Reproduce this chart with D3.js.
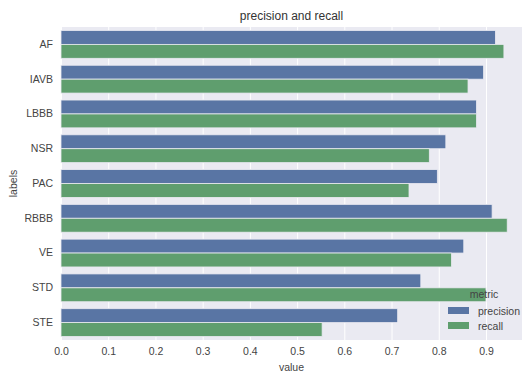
<!DOCTYPE html>
<html>
<head>
<meta charset="utf-8">
<script src="https://cdn.jsdelivr.net/npm/d3@7"></script>
<style>
  html, body { margin: 0; padding: 0; background: #fff; }
  svg { display: block; font-family: "Liberation Sans", Arial, sans-serif; }
</style>
</head>
<body>
<svg id="chart" width="522" height="373"></svg>
<script>
const categories = ["AF", "IAVB", "LBBB", "NSR", "PAC", "RBBB", "VE", "STD", "STE"];
const metrics = ["precision", "recall"];
const precision = [0.920, 0.895, 0.880, 0.815, 0.797, 0.913, 0.853, 0.762, 0.713];
const recall    = [0.938, 0.862, 0.880, 0.780, 0.737, 0.945, 0.827, 0.900, 0.553];
const xTicks = [0, 0.1, 0.2, 0.3, 0.4, 0.5, 0.6, 0.7, 0.8, 0.9];
const colors = ["#5975A4", "#5F9E6E"];

const seriesValues = { precision: precision, recall: recall };
const rows = [];
categories.forEach((c, i) => metrics.forEach(m => rows.push({ label: c, metric: m, value: seriesValues[m][i] })));

const svg = d3.select("#chart");
const L = 61, R = 522, T = 27, B = 340;

const x = d3.scaleLinear().domain([0, 0.9763]).range([L, R]);
const y = d3.scaleBand().domain(categories).range([T, B]).paddingInner(0.2).paddingOuter(0.1);
const yInner = d3.scaleBand().domain(metrics).range([0, y.bandwidth()]);
const color = d3.scaleOrdinal().domain(metrics).range(colors);

// background
svg.append("rect").attr("x", L).attr("y", T).attr("width", R - L).attr("height", B - T).attr("fill", "#EAEAF2");

// vertical grid
const gx = svg.append("g").attr("transform", `translate(0,${B})`)
  .call(d3.axisBottom(x).tickValues(xTicks).tickSize(-(B - T)).tickFormat(""));
gx.select(".domain").remove();
gx.selectAll("line").attr("stroke", "#fff").attr("stroke-width", 1);

// bars
svg.append("g").selectAll("rect").data(rows).join("rect")
  .attr("x", x(0))
  .attr("y", d => y(d.label) + yInner(d.metric))
  .attr("width", d => x(d.value) - x(0))
  .attr("height", yInner.bandwidth())
  .attr("fill", d => color(d.metric))
  .attr("stroke", "#EAEAF2")
  .attr("stroke-width", 0.8);

// x axis labels
const ax = svg.append("g").attr("transform", `translate(0,${B})`)
  .call(d3.axisBottom(x).tickValues(xTicks).tickSize(0).tickPadding(8).tickFormat(d3.format(".1f")));
ax.select(".domain").remove();
ax.selectAll("text").attr("font-size", 10.5).attr("fill", "#444").attr("font-family", "Liberation Sans, Arial, sans-serif");

// y axis labels
const ay = svg.append("g").attr("transform", `translate(${L},0)`)
  .call(d3.axisLeft(y).tickSize(0).tickPadding(8));
ay.select(".domain").remove();
ay.selectAll("text").attr("font-size", 10.5).attr("fill", "#444").attr("font-family", "Liberation Sans, Arial, sans-serif");

// title
svg.append("text").attr("x", (L + R) / 2).attr("y", 20).attr("text-anchor", "middle")
  .attr("font-size", 12).attr("fill", "#333").text("precision and recall");

// axis titles
svg.append("text").attr("x", (L + R) / 2).attr("y", 371).attr("text-anchor", "middle")
  .attr("font-size", 10.5).attr("fill", "#444").text("value");
svg.append("text").attr("transform", `translate(17,${(T + B) / 2}) rotate(-90)`).attr("text-anchor", "middle")
  .attr("font-size", 10.5).attr("fill", "#444").text("labels");

// legend
const lg = svg.append("g");
lg.append("text").attr("x", 484).attr("y", 297.5).attr("text-anchor", "middle")
  .attr("font-size", 10.5).attr("fill", "#444").text("metric");
metrics.forEach((m, i) => {
  const yy = 307 + i * 15;
  lg.append("rect").attr("x", 448).attr("y", yy).attr("width", 21).attr("height", 7).attr("fill", color(m));
  lg.append("text").attr("x", 478).attr("y", yy + 3.5).attr("dominant-baseline", "central")
    .attr("font-size", 10.5).attr("fill", "#444").text(m);
});
</script>
</body>
</html>
